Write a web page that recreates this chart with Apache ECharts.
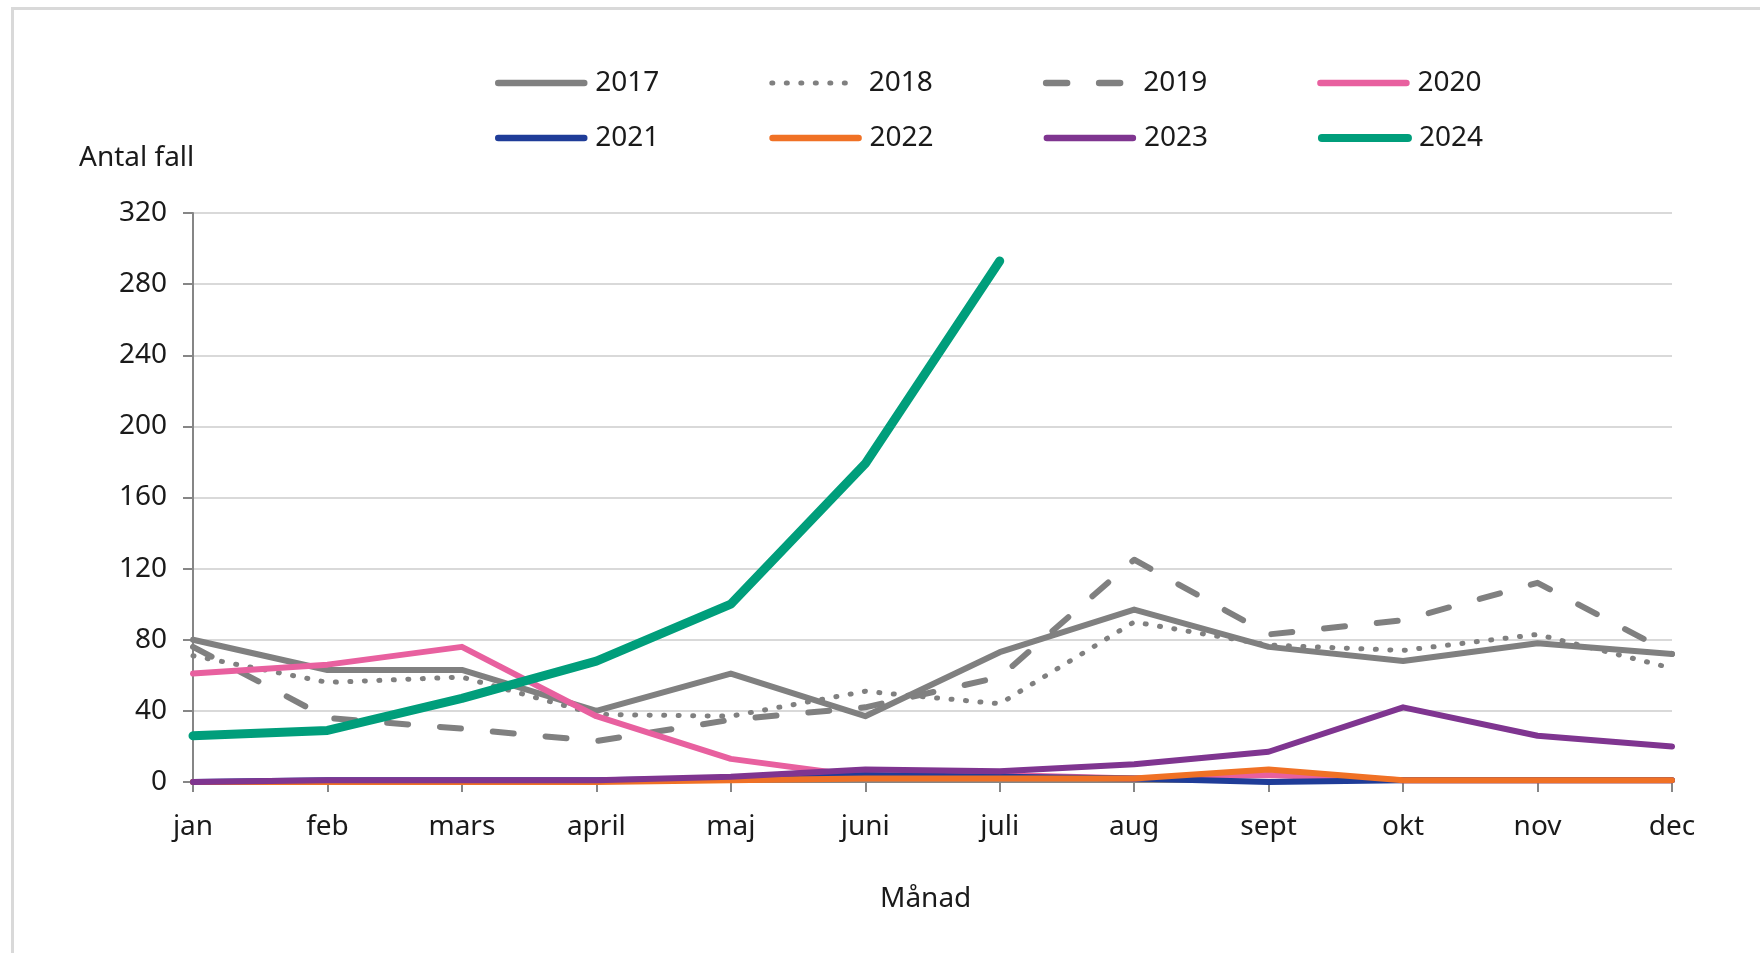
<!DOCTYPE html>
<html>
<head>
<meta charset="utf-8">
<script src="https://cdn.jsdelivr.net/npm/echarts@6/dist/echarts.min.js"></script>
<style>html,body{margin:0;padding:0;background:#fff;}#c{width:1760px;height:953px;}</style>
</head>
<body>
<div id="c"></div>
<script>
const months = ['jan','feb','mars','april','maj','juni','juli','aug','sept','okt','nov','dec'];
const yTicks = [0, 40, 80, 120, 160, 200, 240, 280, 320];
const yearNames = ['2017','2018','2019','2020','2021','2022','2023','2024'];
const v2017 = [80, 63, 63, 40, 61, 37, 73, 97, 76, 68, 78, 72];
const v2018 = [71, 56, 59, 38, 37, 51, 44, 90, 77, 74, 83, 64];
const v2019 = [76, 36, 30, 23, 35, 42, 59, 125, 83, 91, 112, 72];
const v2020 = [61, 66, 76, 37, 13, 3, 4, 2, 4, 1, 1, 1];
const v2021 = [0, 1, 1, 1, 2, 4, 3, 2, 0, 1, 1, 1];
const v2022 = [0, 0, 0, 0, 1, 2, 2, 2, 7, 1, 1, 1];
const v2023 = [0, 1, 1, 1, 3, 7, 6, 10, 17, 42, 26, 20];
const v2024 = [26, 29, 47, 68, 100, 179, 293];

const values = [v2017, v2018, v2019, v2020, v2021, v2022, v2023, v2024];
const colors = ['#808080','#808080','#808080','#e8609f','#1f3c98','#f07125','#7f3590','#009e7b'];
const types = ['solid',[1,13.5],[21,32],'solid','solid','solid','solid','solid'];
const widths = [6,5,6,6,6,6,6,9];

const FONT = 'Noto Sans';
const series = yearNames.map((n,i)=>({
  name: n, type: 'line', data: values[i], symbol: 'none', smooth: false,
  lineStyle: {color: colors[i], width: widths[i], type: types[i], cap: 'round', join: 'round'},
  itemStyle: {color: colors[i]},
  emphasis: {disabled: true},
  z: 2 + i
}));

function legendData(names, offset) {
  return names.map((n, k) => {
    const i = offset + k;
    return {
      name: n,
      lineStyle: {color: colors[i], width: (i === 7 ? 8 : (i === 1 ? 5 : 6.5)), type: types[i], cap: 'round'}
    };
  });
}

const legendCommon = {
  orient: 'horizontal', left: 490, itemWidth: 86, itemHeight: 30, itemGap: 110,
  textStyle: {fontFamily: FONT, fontSize: 28, color: '#1a1a1a', padding: [0, 0, 0, 6]},
  itemStyle: {opacity: 0},
  selectedMode: false
};

const chart = echarts.init(document.getElementById('c'));
chart.setOption({
  backgroundColor: '#ffffff',
  animation: false,
  textStyle: {fontFamily: FONT},
  legend: [
    Object.assign({}, legendCommon, {top: 64, data: legendData(yearNames.slice(0,4), 0)}),
    Object.assign({}, legendCommon, {top: 119, data: legendData(yearNames.slice(4), 4)})
  ],
  grid: {left: 193, right: 88, top: 213, bottom: 171, containLabel: false},
  xAxis: {
    type: 'category', data: months, boundaryGap: false,
    axisLine: {lineStyle: {color: '#868686', width: 2}},
    axisTick: {show: true, length: 10, alignWithLabel: true, lineStyle: {color: '#868686', width: 2}},
    axisLabel: {fontFamily: FONT, fontSize: 28, color: '#1a1a1a', margin: 31, interval: 0},
    splitLine: {show: false}
  },
  yAxis: {
    type: 'value', min: yTicks[0], max: yTicks[yTicks.length-1], interval: 40,
    axisLine: {show: true, lineStyle: {color: '#868686', width: 2}},
    axisTick: {show: true, length: 10, lineStyle: {color: '#868686', width: 2}},
    axisLabel: {fontFamily: FONT, fontSize: 28, color: '#1a1a1a', margin: 26},
    splitLine: {show: true, lineStyle: {color: '#d9d9d9', width: 2}}
  },
  graphic: [
    {type: 'rect', left: 10, top: 6, shape: {width: 1800, height: 1000},
     style: {fill: 'none', stroke: '#d9d9d9', lineWidth: 3}, z: -1, silent: true},
    {type: 'text', left: 79, top: 144, style: {text: 'Antal fall', fontFamily: FONT, fontSize: 28, fill: '#1a1a1a'}},
    {type: 'text', left: 880, top: 885, style: {text: 'Månad', fontFamily: FONT, fontSize: 28, fill: '#1a1a1a'}}
  ],
  series: series
});
</script>
</body>
</html>
